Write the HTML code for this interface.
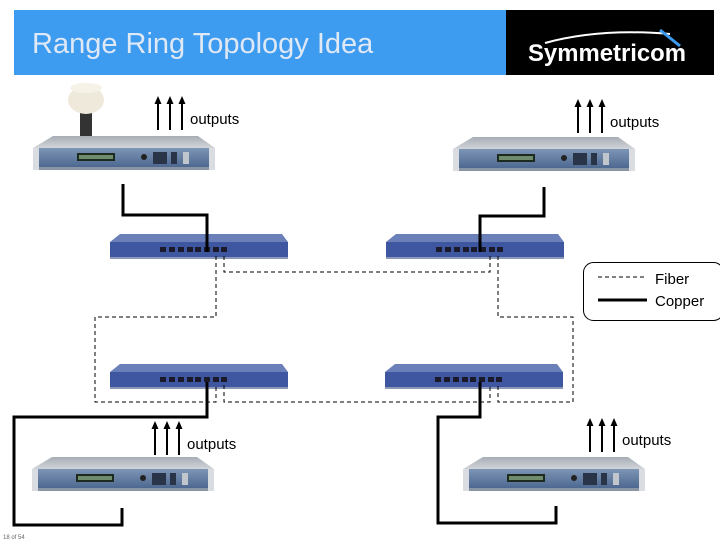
<!DOCTYPE html>
<html><head><meta charset="utf-8"><style>
html,body{margin:0;padding:0;background:#fff;}
svg{display:block;}
text{font-family:"Liberation Sans",sans-serif;}
</style></head><body>
<svg width="720" height="540" viewBox="0 0 720 540" xmlns="http://www.w3.org/2000/svg">
<defs>
<linearGradient id="tg" x1="0" y1="0" x2="0" y2="1"><stop offset="0" stop-color="#a7adb5"/><stop offset="1" stop-color="#d2d6da"/></linearGradient>
<linearGradient id="fg" x1="0" y1="0" x2="0" y2="1"><stop offset="0" stop-color="#7d95b5"/><stop offset="1" stop-color="#4d6890"/></linearGradient>
<marker id="ah" markerUnits="userSpaceOnUse" markerWidth="8" markerHeight="8" refX="4" refY="4" orient="auto"><path d="M0,0.5 L8,4 L0,7.5 z" fill="#000"/></marker>
<g id="srv">
<polygon points="20,0 165,0 182,12 0,12" fill="url(#tg)"/>
<rect x="0" y="12" width="182" height="19" fill="url(#fg)"/>
<rect x="0" y="12" width="6" height="22" fill="#d9dde1"/>
<rect x="176" y="12" width="6" height="22" fill="#d9dde1"/>
<rect x="6" y="31" width="170" height="3" fill="#8a96a6"/>
<rect x="44" y="17" width="38" height="8" fill="#1d2a20"/>
<rect x="46" y="19" width="34" height="4" fill="#6f8c6c"/>
<circle cx="111" cy="21" r="3" fill="#222"/>
<rect x="120" y="16" width="14" height="12" fill="#2a3448"/>
<rect x="138" y="16" width="6" height="12" fill="#2a3448"/>
<rect x="150" y="16" width="6" height="12" fill="#c0c6cc"/>
</g>
<g id="sw">
<polygon points="10,0 172,0 178,8 0,8" fill="#6b7fb8"/>
<rect x="0" y="8" width="178" height="15" fill="#3f57a0"/>
<rect x="0" y="23" width="178" height="2" fill="#8b98b8"/>
<g fill="#1a1a2a">
<rect x="50" y="13" width="6" height="5"/><rect x="59" y="13" width="6" height="5"/><rect x="68" y="13" width="6" height="5"/><rect x="77" y="13" width="6" height="5"/><rect x="85" y="13" width="6" height="5"/><rect x="94" y="13" width="6" height="5"/><rect x="103" y="13" width="6" height="5"/><rect x="111" y="13" width="6" height="5"/>
</g>
</g>
</defs>

<rect x="14" y="10" width="492" height="65" fill="#3d9bf0"/>
<rect x="506" y="10" width="208" height="65" fill="#000"/>
<text x="32" y="53" font-size="29" fill="#dfe8f5">Range Ring Topology Idea</text>
<text x="528" y="61" font-size="24" font-weight="bold" fill="#fff" textLength="158" lengthAdjust="spacingAndGlyphs">Symmetricom</text>
<path d="M545,43 Q600,28 670,34" stroke="#fff" stroke-width="2" fill="none"/>
<path d="M660,30 L680,46" stroke="#3d9bf0" stroke-width="3"/>

<rect x="80" y="110" width="12" height="28" fill="#333"/>
<ellipse cx="86" cy="100" rx="18" ry="14" fill="#efe9dc"/>
<ellipse cx="86" cy="88" rx="16" ry="5" fill="#f6f2e8"/>

<use href="#srv" x="33" y="136"/>
<use href="#srv" x="453" y="137"/>
<use href="#srv" x="32" y="457"/>
<use href="#srv" x="463" y="457"/>

<use href="#sw" x="110" y="234"/>
<use href="#sw" x="386" y="234"/>
<use href="#sw" x="110" y="364"/>
<use href="#sw" x="385" y="364"/>

<g stroke="#000" stroke-width="3" fill="none">
<polyline points="123,184 123,215 207,215 207,252"/>
<polyline points="544,187 544,216 480,216 480,252"/>
<polyline points="207,382 207,417 14,417 14,525 122,525 122,508"/>
<polyline points="480,382 480,417 438,417 438,523 556,523 556,506"/>
<line x1="598" y1="300" x2="647" y2="300"/>
</g>
<g stroke="#000" stroke-width="1" stroke-dasharray="4,3" fill="none">
<polyline points="216,256 216,317 95,317 95,402 216,402 216,385"/>
<polyline points="224,256 224,272 490,272 490,256"/>
<polyline points="498,256 498,317 573,317 573,402 498,402 498,385"/>
<polyline points="224,385 224,402 490,402 490,385"/>
<line x1="598" y1="277" x2="645" y2="277"/>
</g>

<rect x="583.5" y="262.5" width="140" height="58" rx="10" fill="none" stroke="#000"/>
<text x="655" y="284" font-size="15">Fiber</text>
<text x="655" y="306" font-size="15">Copper</text>

<g stroke="#000" stroke-width="2" marker-end="url(#ah)">
<line x1="158" y1="130" x2="158" y2="100"/><line x1="170" y1="130" x2="170" y2="100"/><line x1="182" y1="130" x2="182" y2="100"/>
<line x1="578" y1="133" x2="578" y2="103"/><line x1="590" y1="133" x2="590" y2="103"/><line x1="602" y1="133" x2="602" y2="103"/>
<line x1="155" y1="455" x2="155" y2="425"/><line x1="167" y1="455" x2="167" y2="425"/><line x1="179" y1="455" x2="179" y2="425"/>
<line x1="590" y1="452" x2="590" y2="422"/><line x1="602" y1="452" x2="602" y2="422"/><line x1="614" y1="452" x2="614" y2="422"/>
</g>
<text x="190" y="124" font-size="15">outputs</text>
<text x="610" y="127" font-size="15">outputs</text>
<text x="187" y="449" font-size="15">outputs</text>
<text x="622" y="445" font-size="15">outputs</text>

<text x="3" y="539" font-size="6" fill="#666">18 of 54</text>
</svg>
</body></html>
